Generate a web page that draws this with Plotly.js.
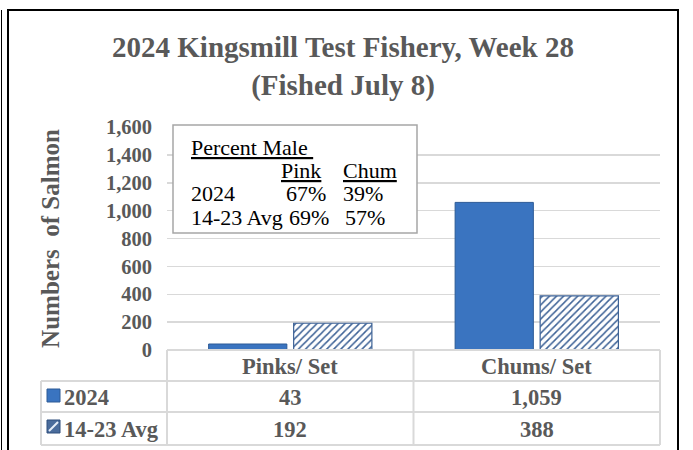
<!DOCTYPE html>
<html><head><meta charset="utf-8">
<script src="https://cdn.plot.ly/plotly-3.0.1.min.js"></script>
<style>html,body{margin:0;padding:0;background:#fff}#chart{width:693px;height:450px}</style>
</head><body><div id="chart"></div>
<script>
// ---- data ----
const categories = ['Pinks/ Set', 'Chums/ Set'];
const seriesNames = ['2024', '14-23 Avg'];
const values2024 = [43, 1059];
const valuesAvg = [192, 388];
const yTickVals = [0, 200, 400, 600, 800, 1000, 1200, 1400, 1600];
const pctTitle = 'Percent Male';
const pctHeaders = ['Pink', 'Chum'];
const pctRowLabels = ['2024', '14-23 Avg'];
const pct2024 = [67, 39];
const pctAvg = [69, 57];
const chartTitle = '2024 Kingsmill Test Fishery, Week 28<br>(Fished July 8)';
const yTitle = 'Numbers&nbsp;&nbsp;of Salmon';

// ---- geometry helpers (pixels -> paper) ----
const W = 693, H = 450, L = 167, R = 660, T = 127, B = 350;
const px = x => (x - L) / (R - L);
const py = y => (B - y) / (B - T);
const FONT = 'Liberation Serif, Times New Roman, serif';
const GREY = '#595959';
const BLUE = '#3a74c0', BLUE_LINE = '#2c5a96', HATCH = '#3d6296';

const traces = [
  {type: 'bar', name: seriesNames[0], x: categories, y: values2024,
   marker: {color: BLUE, line: {color: BLUE_LINE, width: 1}},
   hoverinfo: 'none', showlegend: false},
  {type: 'bar', name: seriesNames[1], x: categories, y: valuesAvg,
   marker: {color: '#ffffff', line: {color: HATCH, width: 1.2},
            pattern: {shape: '/', fgcolor: HATCH, bgcolor: '#ffffff', size: 5, solidity: 0.3, fillmode: 'replace'}},
   hoverinfo: 'none', showlegend: false}
];

const shapes = [];
const annotations = [];
const line = (x0, y0, x1, y1, color, width) => shapes.push({type: 'line', xref: 'paper', yref: 'paper',
  x0: px(x0), y0: py(y0), x1: px(x1), y1: py(y1), line: {color: color, width: width}});

// outer frame
shapes.push({type: 'rect', xref: 'paper', yref: 'paper', x0: px(8), x1: px(678), y0: py(10), y1: py(455),
  line: {color: '#000', width: 2}, fillcolor: 'rgba(0,0,0,0)', layer: 'below'});
line(1.5, 10, 1.5, 455, '#000', 1);

// data table grid
const TG = '#d9d9d9';
const rowY = [B, 381, 412, 445];
const colX = [41, L, (L + R) / 2, R];
line(L, rowY[0], R, rowY[0], TG, 2);
for (let i = 1; i < rowY.length; i++) line(41, rowY[i], R, rowY[i], TG, 2);
line(41, 381, 41, 445, TG, 2);
for (let j = 1; j < colX.length; j++) line(colX[j], B, colX[j], 445, TG, 2);

// legend keys inside table
shapes.push({type: 'rect', xref: 'paper', yref: 'paper', x0: px(47), x1: px(60), y0: py(402), y1: py(389),
  fillcolor: BLUE, line: {color: BLUE_LINE, width: 1}});
shapes.push({type: 'rect', xref: 'paper', yref: 'paper', x0: px(47), x1: px(60), y0: py(433), y1: py(420),
  fillcolor: '#4a6c9c', line: {color: '#2f4f7c', width: 1}});
line(49, 431, 58, 422, '#e6eef8', 2);

// table text
const tFont = {family: FONT, size: 22.5, color: GREY, weight: 'bold'};
categories.forEach((c, i) => {
  annotations.push({xref: 'x', yref: 'paper', x: c, y: py(366), text: c, showarrow: false,
    xanchor: 'center', yanchor: 'middle', font: tFont});
  annotations.push({xref: 'x', yref: 'paper', x: c, y: py(397), text: values2024[i].toLocaleString('en-US'),
    showarrow: false, xanchor: 'center', yanchor: 'middle', font: tFont});
  annotations.push({xref: 'x', yref: 'paper', x: c, y: py(429), text: valuesAvg[i].toLocaleString('en-US'),
    showarrow: false, xanchor: 'center', yanchor: 'middle', font: tFont});
});
annotations.push({xref: 'paper', yref: 'paper', x: px(62), y: py(397), text: seriesNames[0], showarrow: false,
  xanchor: 'left', yanchor: 'middle', font: tFont});
annotations.push({xref: 'paper', yref: 'paper', x: px(62), y: py(429), text: seriesNames[1], showarrow: false,
  xanchor: 'left', yanchor: 'middle', font: tFont});

// percent male text box
shapes.push({type: 'rect', xref: 'paper', yref: 'paper', x0: px(173), x1: px(417), y0: py(233), y1: py(125),
  fillcolor: '#ffffff', line: {color: '#a6a6a6', width: 1.5}, layer: 'above'});
const bFont = {family: FONT, size: 22, color: '#000'};
const boxText = (x, y, t) => annotations.push({xref: 'paper', yref: 'paper', x: px(x), y: py(y), text: t,
  showarrow: false, xanchor: 'left', yanchor: 'middle', font: bFont});
boxText(189, 147, '<u>' + pctTitle + '&nbsp;</u>');
boxText(279, 170, '<u>' + pctHeaders[0] + '</u>');
boxText(341, 170, '<u>' + pctHeaders[1] + '</u>');
boxText(189, 193, pctRowLabels[0]);
boxText(284, 193, pct2024[0] + '%');
boxText(341, 193, pct2024[1] + '%');
boxText(189, 217, pctRowLabels[1]);
boxText(287, 217, pctAvg[0] + '%');
boxText(343, 217, pctAvg[1] + '%');

const layout = {
  width: W, height: H,
  margin: {l: L, r: W - R, t: T, b: H - B, pad: 0},
  paper_bgcolor: '#fff', plot_bgcolor: '#fff',
  title: {text: chartTitle, xref: 'container', yref: 'container', x: 343 / W, y: 1 - 57 / H,
    xanchor: 'center', yanchor: 'middle', font: {family: FONT, size: 29, color: GREY, weight: 'bold'}},
  barmode: 'group', bargap: 0.31, bargroupgap: 0.08,
  xaxis: {type: 'category', showticklabels: false, showgrid: false, zeroline: false, showline: false, ticks: ''},
  yaxis: {range: [0, 1600], tickvals: yTickVals, tickformat: ',d', showgrid: true, gridcolor: '#d9d9d9', gridwidth: 1.5,
    zeroline: false, showline: false, ticks: '', ticklabelstandoff: 14,
    tickfont: {family: FONT, size: 20.5, color: GREY, weight: 'bold'},
    title: {text: yTitle, standoff: 39, font: {family: FONT, size: 25, color: GREY, weight: 'bold'}}},
  shapes: shapes, annotations: annotations, showlegend: false
};

Plotly.newPlot('chart', traces, layout, {displayModeBar: false, staticPlot: true});
</script></body></html>
